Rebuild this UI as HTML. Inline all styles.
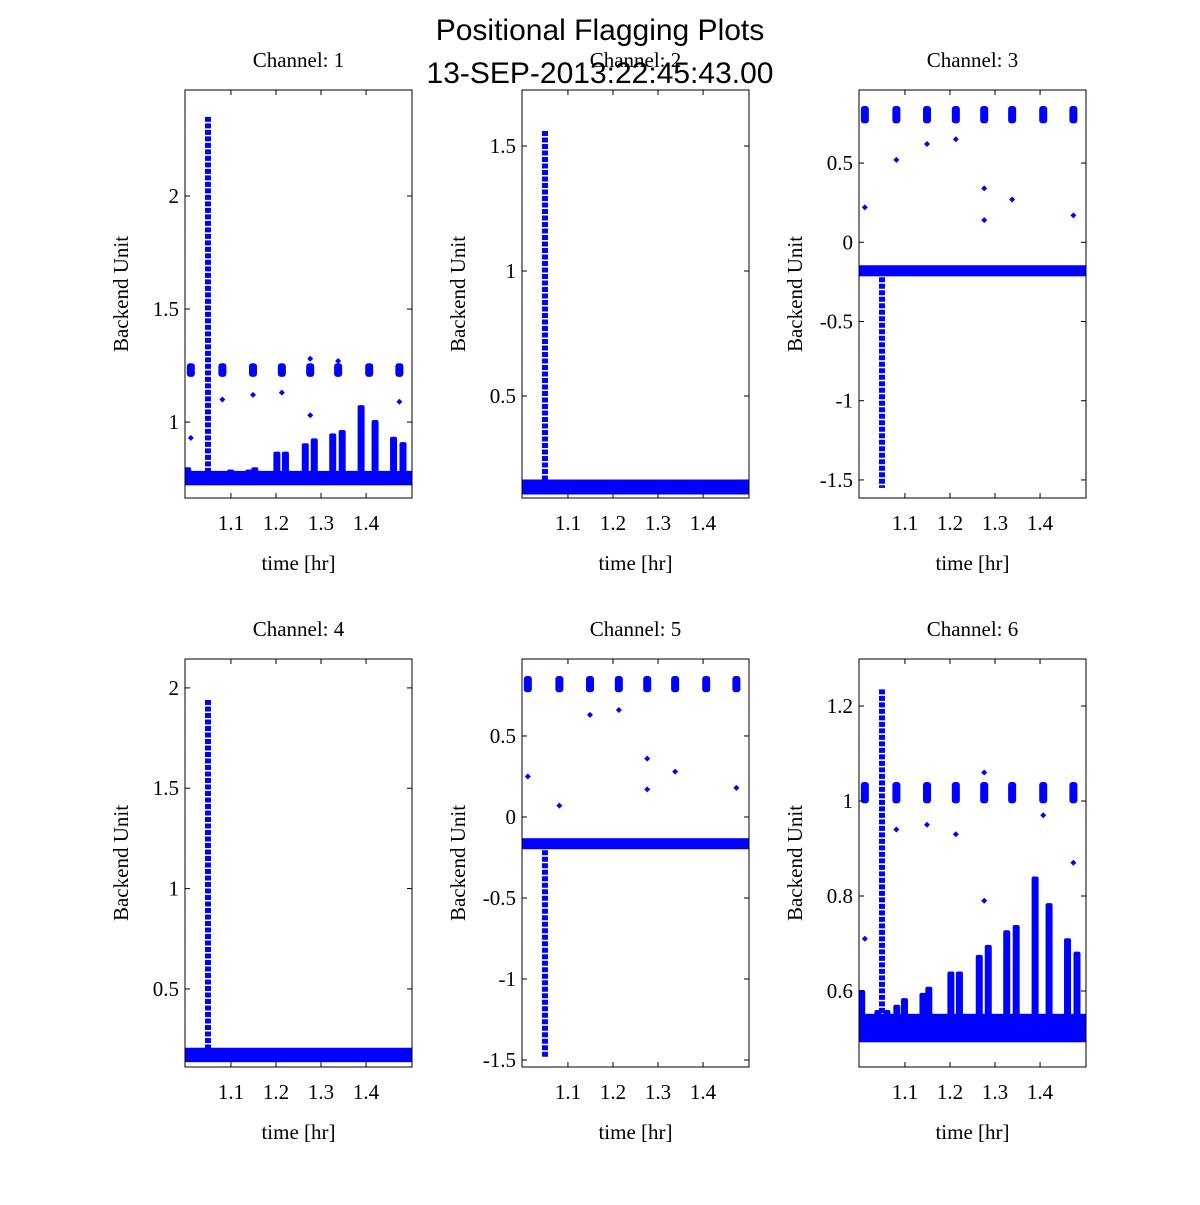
<!DOCTYPE html>
<html><head><meta charset="utf-8"><style>
body{margin:0;background:#fff;width:1200px;height:1200px;overflow:hidden}
svg text{font-family:"Liberation Serif",serif;font-size:21px;fill:#000}
</style></head><body>
<svg id="chart" width="1200" height="1200" xmlns="http://www.w3.org/2000/svg">
<text x="600" y="40" text-anchor="middle" style="font-family:'Liberation Sans',sans-serif;font-size:30px">Positional Flagging Plots</text>
<text x="600" y="83" text-anchor="middle" style="font-family:'Liberation Sans',sans-serif;font-size:30px">13-SEP-2013:22:45:43.00</text>
</svg>
<script>
const xTicks=[1.1,1.2,1.3,1.4];
const clusterX=[1.011,1.081,1.149,1.213,1.276,1.338,1.407,1.474];
const peakX=[1.004,1.04,1.06,1.082,1.099,1.14,1.153,1.202,1.221,1.265,1.285,1.326,1.347,1.389,1.42,1.461,1.482];
const p1Peaks=[0.80,0.78,0.78,0.78,0.79,0.79,0.80,0.869,0.869,0.906,0.928,0.95,0.965,1.075,1.009,0.935,0.911];
const p6Peaks=[0.602,0.56,0.56,0.571,0.585,0.596,0.609,0.641,0.641,0.676,0.697,0.728,0.739,0.841,0.785,0.711,0.683];
const yDomains=[[0.664,2.469],[0.092,1.724],[-1.614,0.961],[0.111,2.144],[-1.543,0.975],[0.44,1.299]];
const yTicks=[[1,1.5,2],[0.5,1,1.5],[-1.5,-1,-0.5,0,0.5],[0.5,1,1.5,2],[-1.5,-1,-0.5,0,0.5],[0.6,0.8,1,1.2]];
const baselines=[0.752,0.136,-0.18,0.171,-0.165,0.522];
const bandHalf=[0.032,0.03,0.035,0.036,0.034,0.03];
const spikeX=[1.049,1.049,1.049,1.049,1.049,1.049];
const spikeEnd=[2.35,1.56,-1.55,1.94,-1.48,1.235];
const clusterLow=[1.20,null,0.75,null,0.77,0.995];
const clusterHigh=[1.26,null,0.86,null,0.87,1.04];
const outX=[[1.011,1.081,1.149,1.213,1.276,1.276,1.338,1.474],[],[1.011,1.081,1.149,1.213,1.276,1.338,1.474,1.276],[],[1.011,1.081,1.149,1.213,1.276,1.338,1.474,1.276],[1.011,1.081,1.149,1.213,1.276,1.474,1.276,1.407]];
const outY=[[0.93,1.1,1.12,1.13,1.03,1.28,1.27,1.09],[],[0.22,0.52,0.62,0.65,0.34,0.27,0.17,0.14],[],[0.25,0.07,0.63,0.66,0.36,0.28,0.18,0.17],[0.71,0.94,0.95,0.93,0.79,0.87,1.06,0.97]];
const titles=["Channel: 1","Channel: 2","Channel: 3","Channel: 4","Channel: 5","Channel: 6"];
const NS="http://www.w3.org/2000/svg";
const svg=document.getElementById('chart');
const lefts=[185,522,859],tops=[90,659],W=227,H=408,xD=[0.998,1.502];
function mk(t,a,p){const e=document.createElementNS(NS,t);for(const k in a)e.setAttribute(k,a[k]);(p||svg).appendChild(e);return e;}
for(let i=0;i<6;i++){
 const L=lefts[i%3],T=tops[Math.floor(i/3)],yd=yDomains[i];
 const X=v=>L+(v-xD[0])/(xD[1]-xD[0])*W;
 const Y=v=>T+H-(v-yd[0])/(yd[1]-yd[0])*H;
 const g=mk('g',{});
 
 
 const cp=mk('clipPath',{id:'c'+i},g);mk('rect',{x:L,y:T,width:W,height:H},cp);
 const d=mk('g',{'clip-path':'url(#c'+i+')',fill:'#0000ff'},g);
 
 
 const b=baselines[i],h=bandHalf[i];
 const band=mk('rect',{x:L,y:Y(b+h),width:W,height:Y(b-h)-Y(b+h)},d);
 
 
 const pk=i==0?p1Peaks:(i==5?p6Peaks:null);
 if(pk){pk.forEach((v,j)=>{const r=mk('rect',{x:X(peakX[j])-3.5,y:Y(v),width:7,height:Y(b)-Y(v),rx:2},d);
 
 });}
 const s0=Math.min(b,spikeEnd[i]),s1=Math.max(b,spikeEnd[i]);
 const sp=mk('line',{x1:X(spikeX[i]),x2:X(spikeX[i]),y1:Y(s1),y2:Y(s0),stroke:'#0000ff','stroke-width':6,'stroke-dasharray':'5 1.5'},d);
 
 
 if(clusterLow[i]!==null){clusterX.forEach(cx=>{const r=mk('rect',{x:X(cx)-4,y:Y(clusterHigh[i]),width:8,height:Y(clusterLow[i])-Y(clusterHigh[i]),rx:3},d);
 
 });}
 outX[i].forEach((ox,j)=>{const p=mk('path',{d:`M${X(ox)} ${Y(outY[i][j])-3}l3 3l-3 3l-3 -3z`},d);
 
 });
 const ax=mk('rect',{x:L,y:T,width:W,height:H,fill:'none',stroke:'#000','stroke-width':1},g);
 
 
 xTicks.forEach(t=>{const x=X(t);mk('line',{x1:x,x2:x,y1:T+H,y2:T+H-5,stroke:'#000'},g);mk('line',{x1:x,x2:x,y1:T,y2:T+5,stroke:'#000'},g);
 const tl=mk('text',{x:x,y:T+H+32,'text-anchor':'middle'},g);tl.textContent=t.toFixed(1);
 
 });
 yTicks[i].forEach(t=>{const y=Y(t);mk('line',{x1:L,x2:L+5,y1:y,y2:y,stroke:'#000'},g);mk('line',{x1:L+W,x2:L+W-5,y1:y,y2:y,stroke:'#000'},g);
 const tl=mk('text',{x:L-6,y:y+7,'text-anchor':'end'},g);tl.textContent=String(t);
 
 });
 const tt=mk('text',{x:L+W/2,y:T-23,'text-anchor':'middle'},g);tt.textContent=titles[i];
 
 
 const xl=mk('text',{x:L+W/2,y:T+H+72,'text-anchor':'middle'},g);xl.textContent='time [hr]';
 
 
 const yx=L-57,yy=T+H/2;
 const yl=mk('text',{x:yx,y:yy,'text-anchor':'middle',transform:`rotate(-90 ${yx} ${yy})`},g);yl.textContent='Backend Unit';
 
 
}
</script>
</body></html>
